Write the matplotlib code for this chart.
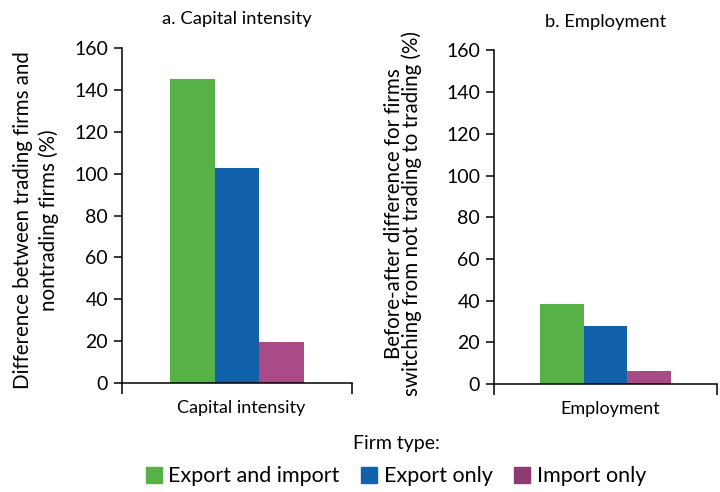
import numpy as np
import matplotlib.pyplot as plt
from matplotlib.patches import Patch

plt.rcParams['font.family'] = ['Lato', 'DejaVu Sans']

firm_types = ['Export and import', 'Export only', 'Import only']
bar_colors = ['#57b147', '#1262ab', '#a84b87']
legend_colors = ['#57b147', '#1262ab', '#8d3b70']

capital = [145, 102.5, 19.5]
employment = [38.5, 28, 6.3]

panels = [
    ('a. Capital intensity', 'Capital intensity', capital,
     'Difference between trading firms and\nnontrading firms (%)'),
    ('b. Employment', 'Employment', employment,
     'Before-after difference for firms\nswitching from not trading to trading (%)'),
]
# label pad, line spacing, vertical position of the y label
label_style = [(10.5, 1.37, 0.485), (17, 0.88, 0.51)]

fig = plt.figure(figsize=(7.2, 4.92), dpi=100)
rects = [[0.1694, 0.2215, 0.3194, 0.6809], [0.6861, 0.2195, 0.3097, 0.678]]

width = 0.195
for rect, (title, cat, vals, ylab), (lpad, lsp, ly) in zip(rects, panels, label_style):
    ax = fig.add_axes(rect)
    x = np.array([-1, 0, 1]) * width
    ax.bar(x, vals, width, color=bar_colors)
    ax.set_xlim(-0.5, 0.5)
    ax.set_ylim(0, 160)
    ax.set_yticks(np.arange(0, 161, 20))
    ax.tick_params(axis='y', labelsize=14, length=6, width=1.1, pad=4)
    ax.set_xticks([-0.5, 0.5])
    ax.set_xticklabels(['', ''])
    ax.tick_params(axis='x', length=8, width=1.1)
    ax.set_xticks([0.02], minor=True)
    ax.set_xticklabels([cat], minor=True, fontsize=13)
    ax.tick_params(axis='x', which='minor', length=0, pad=12)
    for s in ['top', 'right']:
        ax.spines[s].set_visible(False)
    for s in ['left', 'bottom']:
        ax.spines[s].set_linewidth(1.1)
    ax.set_title(title, fontsize=13.2, pad=17)
    ax.set_ylabel(ylab, fontsize=14.8, labelpad=lpad, linespacing=lsp)
    ax.yaxis.label.set_y(ly)

handles = [Patch(color=c) for c in legend_colors]
leg = fig.legend(handles, firm_types, loc='lower center', bbox_to_anchor=(0.55, -0.006),
                 ncol=3, frameon=False, fontsize=15.5, title='Firm type:',
                 title_fontsize=14, handlelength=0.75, handleheight=0.75,
                 handletextpad=0.3, columnspacing=1.0, labelspacing=0.65,
                 borderaxespad=0.0)

fig.savefig('out.png', dpi=100)
